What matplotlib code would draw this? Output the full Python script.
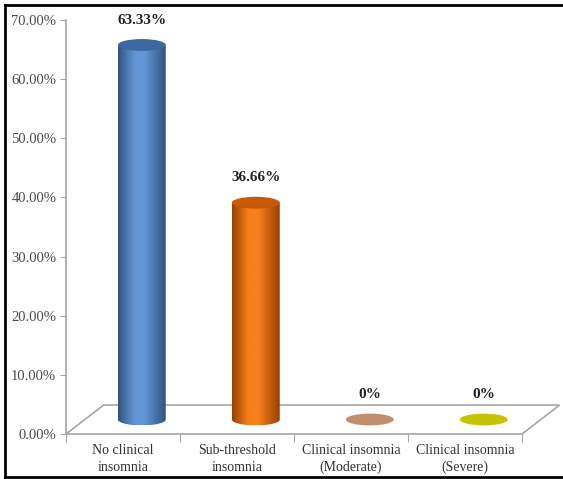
import numpy as np
import matplotlib.pyplot as plt
from matplotlib.patches import Ellipse, PathPatch, Polygon
from matplotlib.path import Path
from matplotlib.colors import LinearSegmentedColormap
from matplotlib.lines import Line2D

# data
categories = ["No clinical\ninsomnia", "Sub-threshold\ninsomnia",
              "Clinical insomnia\n(Moderate)", "Clinical insomnia\n(Severe)"]
values = [0.6333, 0.3666, 0.0, 0.0]
value_labels = ["63.33%", "36.66%", "0%", "0%"]
y_ticks = [0.0, 0.1, 0.2, 0.3, 0.4, 0.5, 0.6, 0.7]

# (edge shade, highlight, top cap)
colors = [("#30547f", "#6396d6", "#3d69a3"),
          ("#983f00", "#f8801a", "#c65a08"),
          ("#a8785a", "#c8977a", "#c08e6c"),
          ("#b0ae00", "#d4d200", "#c6c400")]

plt.rcParams['font.family'] = ['Liberation Serif', 'DejaVu Serif']

fig = plt.figure(figsize=(5.63, 4.79), dpi=100)
W, H = 563, 479
ax = fig.add_axes([66 / W, (H - 434) / H, (522 - 66) / W, (434 - 20) / H])
ax.set_xlim(-0.5, 3.5)
ax.set_ylim(0, 0.7)

# 3d depth of the floor, in data units
depth_x = 0.33
depth_y = 0.049
bar_w = 0.42
cap_h = 0.02

grey = "#a6a6a6"

# floor
floor = Polygon([(-0.5, 0), (3.5, 0), (3.5 + depth_x, depth_y), (-0.5 + depth_x, depth_y)],
                closed=True, facecolor="white", edgecolor=grey, lw=1.2, clip_on=False, zorder=1)
ax.add_patch(floor)

# cylinders
for i, (v, lab) in enumerate(zip(values, value_labels)):
    cx = i + depth_x / 2
    base = depth_y / 2
    top = base + v
    x0, x1 = cx - bar_w / 2, cx + bar_w / 2
    dark, light, cap = colors[i]
    if v > 0:
        t = np.linspace(np.pi, 2 * np.pi, 40)
        bottom = np.column_stack([cx + bar_w / 2 * np.cos(t), base + cap_h / 2 * np.sin(t)])
        verts = np.vstack([bottom, [[x1, top], [x0, top], [x0, base]]])
        body = PathPatch(Path(verts, closed=False), facecolor="none", edgecolor="none",
                         transform=ax.transData)
        ax.add_patch(body)
        cmap = LinearSegmentedColormap.from_list(
            "c%d" % i, [(0, dark), (0.35, light), (0.55, light), (1, dark)])
        grad = np.linspace(0, 1, 256).reshape(1, -1)
        im = ax.imshow(grad, cmap=cmap, extent=(x0, x1, base - cap_h / 2, top),
                       aspect="auto", zorder=2, interpolation="bilinear")
        im.set_clip_path(body)
    ax.add_patch(Ellipse((cx, top), bar_w, cap_h, facecolor=cap, edgecolor="none", zorder=3))
    ax.text(cx, top + 0.042, lab, ha="center", va="center", fontsize=11,
            fontweight="bold", color="#222222")

ax.set_xlim(-0.5, 3.5)
ax.set_ylim(0, 0.7)

# axes styling
for s in ["top", "right", "bottom"]:
    ax.spines[s].set_visible(False)
ax.spines["left"].set_color(grey)
ax.spines["left"].set_linewidth(1.2)

ax.set_yticks(y_ticks)
ax.set_yticklabels(["%.2f%%" % (y * 100) for y in y_ticks])
ax.tick_params(axis="y", direction="out", length=4, color=grey, labelsize=10.5,
               labelcolor="#4a4a4a", pad=3)

ax.set_xticks(np.arange(-0.5, len(categories), 1.0))
ax.set_xticklabels([])
ax.tick_params(axis="x", which="major", direction="out", length=6, color=grey)
ax.set_xticks(np.arange(len(categories)), minor=True)
ax.set_xticklabels(categories, minor=True)
ax.tick_params(axis="x", which="minor", length=0, labelsize=10, labelcolor="#333333", pad=7)
for lbl in ax.get_xticklabels(minor=True):
    lbl.set_linespacing(1.4)

# outer frame (top, left, bottom)
fig.add_artist(Line2D([5 / W, 1], [1 - 5 / H, 1 - 5 / H], color="black", lw=2))
fig.add_artist(Line2D([5 / W, 5 / W], [1 - 5 / H, 2 / H], color="black", lw=2))
fig.add_artist(Line2D([5 / W, 1], [2 / H, 2 / H], color="black", lw=2))

fig.savefig("out.png", dpi=100)
